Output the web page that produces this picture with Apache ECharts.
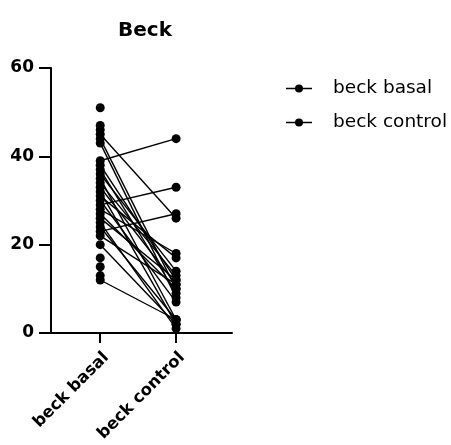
<!DOCTYPE html>
<html>
<head>
<meta charset="utf-8">
<script src="https://cdn.jsdelivr.net/npm/echarts@6/dist/echarts.min.js"></script>
<style>
  html, body { margin: 0; padding: 0; background: #fff; }
  #chart { width: 451px; height: 445px; }
</style>
</head>
<body>
<div id="chart"></div>
<script>
// Paired Beck scores: each subject's basal value and its control value.
const categories = ['beck basal', 'beck control'];
const basalValues   = [51, 47, 46, 45, 44, 43, 39, 38, 37, 36, 35, 34, 33, 32, 31, 30, 29, 28, 27, 26, 25, 24, 23, 22, 20, 17, 15, 13, 12];
const controlValues = [null, null, null, 26, 10, 8, 44, 12, 9, 14, 3, 13, 11, 2, 17, 7, 33, 18, 10, 12, 1, 3, 27, 11, 2, null, null, null, 3];
const yTicks = [0, 20, 40, 60];

const FONT = 'DejaVu Sans';

// One thin connector per complete pair.
const pairSeries = [];
basalValues.forEach((b, i) => {
  const c = controlValues[i];
  if (c === null) return;
  pairSeries.push({
    type: 'line',
    data: [[0, b], [1, c]],
    symbol: 'none',
    silent: true,
    z: 1,
    lineStyle: { color: '#000', width: 1.4 },
    emphasis: { disabled: true }
  });
});

const legendIcon = 'path://M0,3.3H26V4.7H0Z M13,0A4,4 0 1 1 13,8A4,4 0 1 1 13,0Z';

const chart = echarts.init(document.getElementById('chart'));
chart.setOption({
  animation: false,
  backgroundColor: '#fff',
  title: {
    text: 'Beck',
    left: 140,
    top: 16,
    textAlign: 'center',
    textStyle: { fontFamily: FONT, fontWeight: 'bold', fontSize: 20, color: '#000' }
  },
  legend: {
    orient: 'vertical',
    left: 281,
    top: 74,
    itemWidth: 26,
    itemHeight: 8,
    itemGap: 15,
    icon: legendIcon,
    data: categories,
    textStyle: { fontFamily: FONT, fontSize: 18.5, color: '#000', padding: [0, 0, 0, 16] },
    itemStyle: { color: '#000', opacity: 1 }
  },
  grid: { left: 51, right: 219, top: 68, bottom: 112, containLabel: false },
  xAxis: {
    type: 'value',
    min: -0.649,
    max: 1.737,
    axisLine: { onZero: false, lineStyle: { color: '#000', width: 2 } },
    axisTick: { customValues: [0, 1], length: 10, lineStyle: { color: '#000', width: 2 } },
    axisLabel: {
      customValues: [0, 1],
      rotate: 45,
      margin: 16,
      verticalAlign: 'top',
      formatter: v => categories[Math.round(v)],
      fontFamily: FONT, fontWeight: 'bold', fontSize: 16.5, color: '#000'
    },
    splitLine: { show: false }
  },
  yAxis: {
    type: 'value',
    min: yTicks[0],
    max: yTicks[yTicks.length - 1],
    interval: 20,
    axisLine: { show: true, onZero: false, lineStyle: { color: '#000', width: 2 } },
    axisTick: { show: true, inside: false, length: 12, lineStyle: { color: '#000', width: 2 } },
    axisLabel: { margin: 17, fontFamily: FONT, fontWeight: 'bold', fontSize: 17, color: '#000' },
    splitLine: { show: false }
  },
  series: [
    {
      name: categories[0],
      type: 'scatter',
      data: basalValues.map(v => [0, v]),
      symbol: 'circle',
      symbolSize: 9,
      z: 3,
      itemStyle: { color: '#000', opacity: 1 }
    },
    {
      name: categories[1],
      type: 'scatter',
      data: controlValues.filter(v => v !== null).map(v => [1, v]),
      symbol: 'circle',
      symbolSize: 9,
      z: 3,
      itemStyle: { color: '#000', opacity: 1 }
    }
  ].concat(pairSeries)
});
</script>
</body>
</html>
